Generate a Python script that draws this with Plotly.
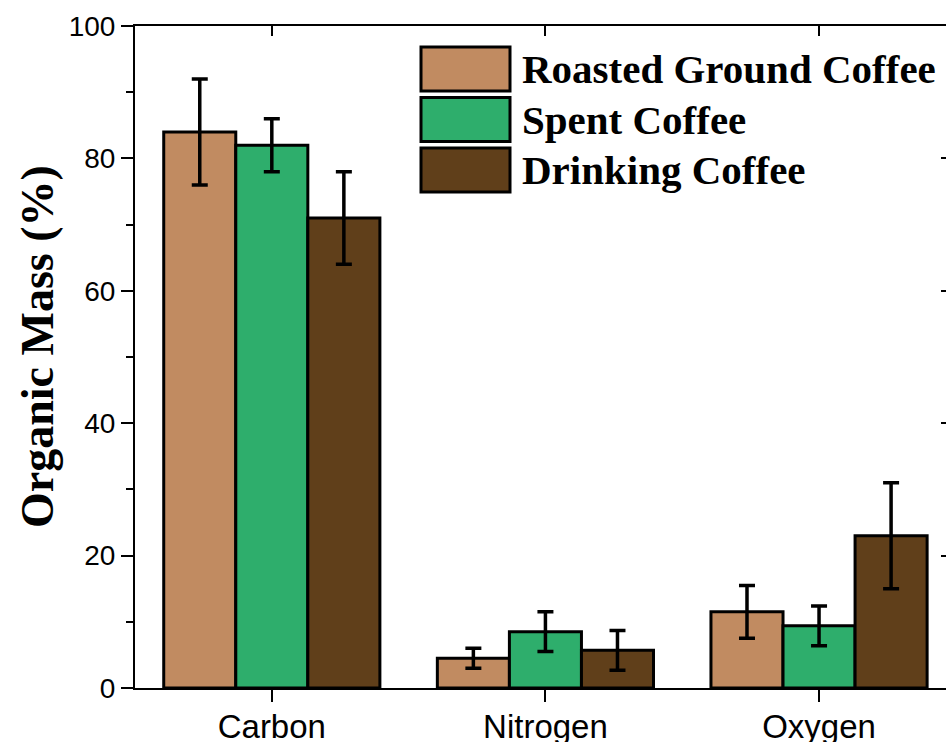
import plotly.graph_objects as go

# Elemental composition of coffee samples (organic mass fraction, %)
elements = ["Carbon", "Nitrogen", "Oxygen"]
series_names = ["Roasted Ground Coffee", "Spent Coffee", "Drinking Coffee"]
roasted = [84.0, 4.5, 11.5]
roasted_err = [8.0, 1.5, 4.0]
spent = [82.0, 8.5, 9.4]
spent_err = [4.0, 3.0, 3.0]
drinking = [71.0, 5.7, 23.0]
drinking_err = [7.0, 3.0, 8.0]
y_ticks = [0, 20, 40, 60, 80, 100]

colors = ["#C18B61", "#2EAE6C", "#603F1A"]
values = [roasted, spent, drinking]
errors = [roasted_err, spent_err, drinking_err]

fig = go.Figure()
for name, vals, errs, col in zip(series_names, values, errors, colors):
    fig.add_trace(go.Bar(
        x=elements, y=vals, name=name,
        marker=dict(color=col, line=dict(color="black", width=3)),
        error_y=dict(type="data", array=errs, visible=True,
                     color="black", thickness=3.5, width=8),
        showlegend=False,
    ))

# empty trace so the overlay axes (top / right frame ticks) are drawn
fig.add_trace(go.Scatter(x=[], y=[], xaxis="x2", yaxis="y2",
                         showlegend=False, hoverinfo="skip"))

x_range = [-0.5, 2.464]
fig.update_layout(
    width=946, height=742,
    margin=dict(l=135, r=0, t=26, b=54),
    paper_bgcolor="white", plot_bgcolor="white",
    barmode="group", bargap=0.21, bargroupgap=0,
    xaxis=dict(
        range=x_range, showline=True, linecolor="black", linewidth=2,
        ticks="outside", ticklen=12, tickwidth=2, tickcolor="black",
        ticklabelstandoff=-4,
        tickfont=dict(family="Liberation Sans, Arial", size=33, color="black"),
        showgrid=False, zeroline=False, automargin=False,
    ),
    yaxis=dict(
        range=[0, 100], tickvals=y_ticks, showline=True, linecolor="black",
        linewidth=2, ticks="outside", ticklen=12, tickwidth=2, tickcolor="black",
        minor=dict(dtick=10, ticks="outside", ticklen=7, tickwidth=2,
                   tickcolor="black", showgrid=False),
        tickfont=dict(family="Liberation Sans, Arial", size=28, color="black"),
        showgrid=False, zeroline=False, automargin=False,
    ),
    xaxis2=dict(
        overlaying="x", side="top", range=x_range, tickvals=[0, 1, 2],
        showticklabels=False, showline=True, linecolor="black", linewidth=2,
        ticks="inside", ticklen=10, tickwidth=2, tickcolor="black",
        showgrid=False, zeroline=False, automargin=False,
    ),
    yaxis2=dict(
        overlaying="y", side="right", range=[0, 100], tickvals=y_ticks,
        showticklabels=False, showline=False, ticks="inside", ticklen=5,
        tickwidth=2, tickcolor="black", showgrid=False, zeroline=False,
        automargin=False,
    ),
)

plot_w, plot_h = 811, 662

# y-axis title
fig.add_annotation(
    text="<b>Organic Mass (%)</b>", textangle=-90,
    xref="paper", yref="paper", x=(37 - 135) / plot_w,
    y=1 - (347 - 26) / plot_h,
    xanchor="center", yanchor="middle", showarrow=False,
    font=dict(family="Liberation Serif, Times New Roman", size=46, color="black"),
)

# legend: large swatches with bold labels
row_centers = [69, 119.5, 170]
for name, col, yc in zip(series_names, colors, row_centers):
    y0 = 1 - (yc - 22 - 26) / plot_h
    y1 = 1 - (yc + 22 - 26) / plot_h
    fig.add_shape(type="rect", xref="paper", yref="paper",
                  x0=(421 - 135) / plot_w, x1=(510 - 135) / plot_w,
                  y0=y1, y1=y0, fillcolor=col,
                  line=dict(color="black", width=3))
    fig.add_annotation(
        text=f"<b>{name}</b>", xref="paper", yref="paper",
        x=(520 - 135) / plot_w, y=1 - (yc - 26) / plot_h,
        xanchor="left", yanchor="middle", showarrow=False,
        font=dict(family="Liberation Serif, Times New Roman", size=41, color="black"),
    )

fig.write_html("out.html")
